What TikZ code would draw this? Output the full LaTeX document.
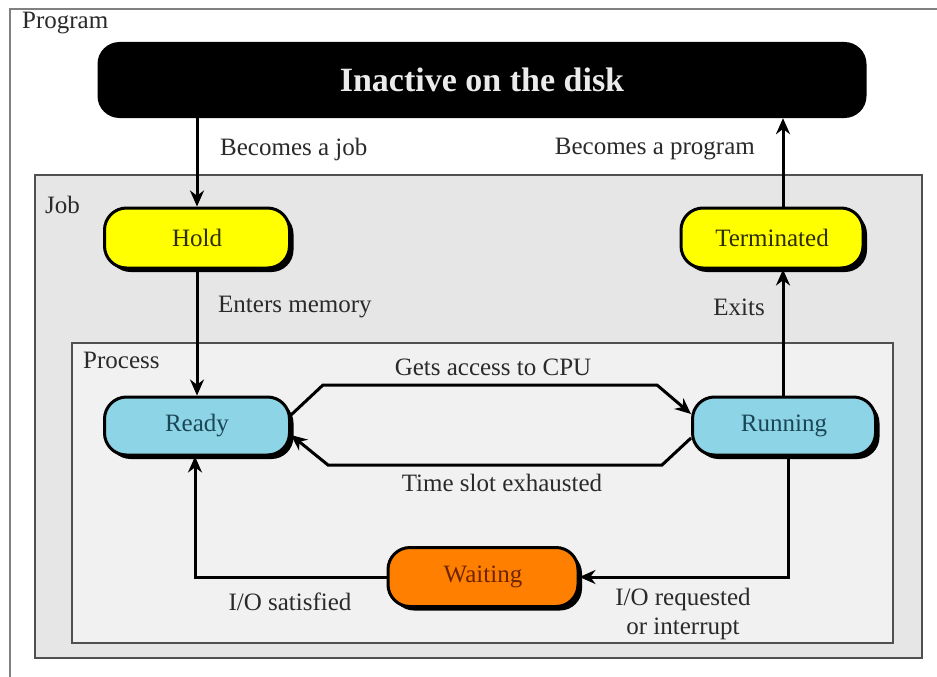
\documentclass[tikz,border=0pt]{standalone}
\usepackage{fontspec}
\setmainfont{Liberation Serif}
\usetikzlibrary{arrows.meta,shadows}
\definecolor{jobgray}{HTML}{E6E6E6}
\definecolor{procgray}{HTML}{F1F1F1}
\definecolor{framec}{HTML}{505050}
\definecolor{yel}{HTML}{FFFF00}
\definecolor{blu}{HTML}{8DD4E6}
\definecolor{ora}{HTML}{FF8000}
\definecolor{txtc}{HTML}{2A2A2A}
\definecolor{bluetxt}{HTML}{1A4656}
\definecolor{yeltxt}{HTML}{2E2E00}
\definecolor{oratxt}{HTML}{6E2400}
\tikzset{
  state/.style={draw=black, line width=3pt, rounded corners=22pt, minimum height=58pt,
    font=\fontsize{25}{28}\selectfont, inner sep=0pt,
    drop shadow={shadow xshift=4pt, shadow yshift=-4pt, fill=black, opacity=1}},
  lbl/.style={font=\fontsize{25}{29}\selectfont, text=txtc, inner sep=0pt},
  arr/.style={line width=3pt, -{Stealth[length=16pt,width=14pt]}},
  frame/.style={draw=framec, line width=2.2pt}
}
\begin{document}
\begin{tikzpicture}[x=1pt,y=-1pt]
\useasboundingbox (0,0) rectangle (937,677);
\fill[white] (0,0) rectangle (937,677);
% Program frame
\draw[draw=gray, line width=1.5pt] (10,677) -- (10,9) -- (937,9);
\node[lbl, anchor=west] (lprog) at (22,23) {Program};
% Job frame
\draw[frame, fill=jobgray] (35,175) rectangle (922,658);
\node[lbl, anchor=west] (ljob) at (45,205) {Job};
% Process frame
\draw[frame, fill=procgray] (72,343) rectangle (893,643);
\node[lbl, anchor=west] (lproc) at (83,360) {Process};
% Disk
\node[fill=black, rounded corners=22pt, minimum width=769pt, minimum height=76pt,
  text=white!92!black, font=\fontsize{34}{38}\selectfont\bfseries] (disk) at (482,80) {Inactive on the disk};
% States
\node[state, fill=yel, text=yeltxt, minimum width=185pt, minimum height=60pt] (hold) at (197,238) {Hold};
\node[state, fill=yel, text=yeltxt, minimum width=182pt, minimum height=60pt] (term) at (772,238) {Terminated};
\node[state, fill=blu, text=bluetxt, minimum width=185pt] (ready) at (197,426) {Ready};
\node[state, fill=blu, text=bluetxt, minimum width=183pt] (run) at (784,426) {Running};
\node[state, fill=ora, text=oratxt, minimum width=190pt, minimum height=59pt] (wait) at (483,577) {Waiting};
% Arrows
\draw[arr] (hold.north |- disk.south) -- (hold.north);
\node[lbl, anchor=west] (lbj) at (220,149) {Becomes a job};
\draw[arr] (hold.south) -- (ready.north);
\node[lbl, anchor=west] (lem) at (218,307) {Enters memory};
\coordinate (rn) at ([xshift=-1pt]run.north);
\draw[arr] (rn) -- (rn |- term.south);
\node[lbl, anchor=east] (lex) at (765,307) {Exits};
\draw[arr] (rn |- term.north) -- (rn |- disk.south);
\node[lbl, anchor=east] (lbp) at (755,149) {Becomes a program};
% CPU
\coordinate (g1) at (323,385);
\coordinate (g2) at (657,385);
\draw[arr] ([yshift=11pt]ready.east) -- (g1) -- (g2) -- ([yshift=12pt]run.west);
\node[lbl] (lcpu) at (493,367) {Gets access to CPU};
\coordinate (t1) at (328,465);
\coordinate (t2) at (662,465);
\draw[arr] ([yshift=-12pt]run.west) -- (t2) -- (t1) -- ([yshift=-9pt]ready.east);
\node[lbl] (lts) at (502,483) {Time slot exhausted};
% I/O
\draw[arr] ([xshift=4pt]run.south) |- (wait.east);
\node[lbl, align=center] (lio) at (683,614) {I/O requested\\or interrupt};
\draw[arr] (wait.west) -| ([xshift=-2pt]ready.south);
\node[lbl] (lsat) at (290,602) {I/O satisfied};
\end{tikzpicture}
\end{document}
